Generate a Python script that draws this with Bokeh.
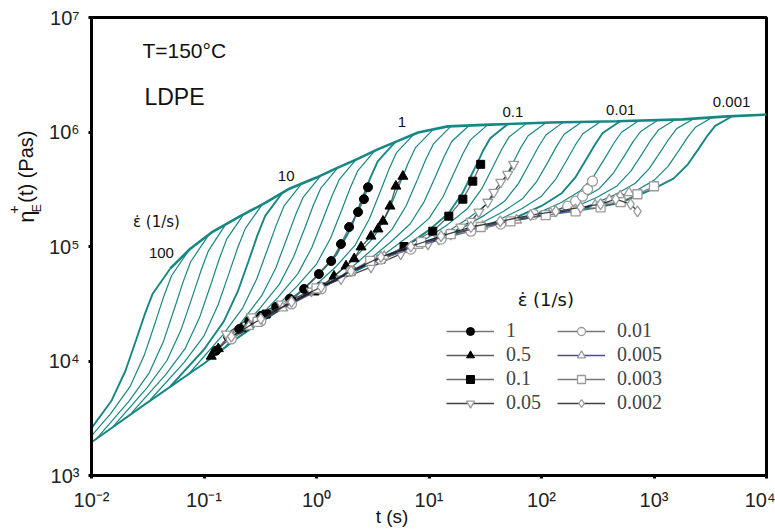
import math
from bokeh.plotting import figure
from bokeh.layouts import row
from bokeh.models import FixedTicker, CustomJSTickFormatter, Label, Legend, LegendItem, Range1d
from bokeh.core.properties import value
from bokeh.embed import file_html
from bokeh.resources import INLINE

# ---------------- axes ----------------
X_RANGE = (1e-2, 1e4)
Y_RANGE = (1e3, 1e7)
X_TICKS = [1e-2, 1e-1, 1, 10, 100, 1000, 1e4]
Y_TICKS = [1e3, 1e4, 1e5, 1e6, 1e7]

# ---------------- model curves ----------------
# linear-viscoelastic start-up (lower bound of the fan)
LVE_T = [0.01, 0.03, 0.1, 0.2, 0.3, 0.5, 1, 2, 3, 5, 10, 20, 30, 50, 100, 200, 300, 500]
LVE_ETA = [1950, 4200, 9500, 16000, 21000, 29000, 42000, 58000, 71000, 87000, 110000, 135000, 150000,
           166000, 186000, 209000, 221000, 240000]

# upper envelope joining the ends of the curves
ENV_T = [0.05, 0.075, 0.12, 0.21, 0.35, 0.56, 1.0, 1.43, 2.3, 3.5, 5.5, 8, 14.7, 35, 120, 470, 1800, 4500, 10000]
ENV_ETA = [64000, 95000, 135000, 184000, 240000, 316000, 400000, 472000, 580000, 705000, 850000, 990000,
           1120000, 1160000, 1210000, 1240000, 1290000, 1370000, 1420000]

# Hencky strain at which each model curve is read
MODEL_STRAIN = [0.5, 1, 1.5, 2, 2.5, 3, 3.5, 5]
MODEL_RATES = [100, 68, 46, 32, 22, 15, 10, 6.8, 4.6, 3.2, 2.2, 1.5, 1, 0.68, 0.46, 0.32, 0.22, 0.15,
               0.1, 0.068, 0.046, 0.032, 0.022, 0.015, 0.01, 0.0068, 0.0046, 0.0032, 0.0022, 0.0015, 0.001]

ETA_100 = [1200, 2590, 4470, 8180, 15400, 26200, 38700, 64000]
ETA_68 = [1570, 3440, 6000, 11200, 21500, 37200, 55500, 93100]
ETA_46 = [2050, 4510, 7890, 14700, 28300, 49100, 73600, 124000]
ETA_32 = [2690, 5860, 10100, 18700, 35600, 61000, 91600, 157000]
ETA_22 = [3520, 7570, 12900, 23700, 44900, 77400, 116000, 194000]
ETA_15 = [4590, 9730, 16600, 30800, 58200, 98400, 144000, 237000]
ETA_10 = [5960, 12600, 22200, 40700, 75500, 127000, 185000, 296000]
ETA_6_8 = [7740, 16900, 29000, 52100, 95100, 156000, 226000, 353000]
ETA_4_6 = [10100, 22100, 37200, 65000, 117000, 189000, 269000, 414000]
ETA_3_2 = [13500, 28600, 46900, 80900, 142000, 229000, 324000, 493000]
ETA_2_2 = [17700, 36000, 57700, 97900, 171000, 272000, 383000, 582000]
ETA_1_5 = [22900, 44600, 70300, 118000, 205000, 327000, 460000, 695000]
ETA_1 = [28800, 54600, 84700, 142000, 248000, 395000, 553000, 817000]
ETA_0_68 = [35500, 65800, 103000, 173000, 299000, 474000, 661000, 957000]
ETA_0_46 = [43200, 78900, 122000, 201000, 343000, 533000, 735000, 1050000]
ETA_0_32 = [52000, 94200, 141000, 226000, 376000, 577000, 787000, 1120000]
ETA_0_22 = [62500, 109000, 158000, 248000, 404000, 611000, 826000, 1140000]
ETA_0_15 = [74600, 124000, 176000, 272000, 438000, 646000, 853000, 1160000]
ETA_0_1 = [87100, 139000, 196000, 296000, 463000, 675000, 883000, 1170000]
ETA_0_068 = [99300, 156000, 215000, 318000, 489000, 700000, 906000, 1190000]
ETA_0_046 = [112000, 173000, 233000, 338000, 513000, 726000, 927000, 1200000]
ETA_0_032 = [127000, 188000, 248000, 356000, 530000, 740000, 942000, 1220000]
ETA_0_022 = [141000, 201000, 263000, 371000, 543000, 753000, 955000, 1220000]
ETA_0_015 = [153000, 214000, 275000, 385000, 561000, 771000, 966000, 1230000]
ETA_0_01 = [166000, 226000, 290000, 401000, 577000, 783000, 979000, 1240000]
ETA_0_0068 = [177000, 240000, 305000, 418000, 594000, 802000, 995000, 1260000]
ETA_0_0046 = [188000, 253000, 320000, 436000, 615000, 824000, 1010000, 1270000]
ETA_0_0032 = [200000, 269000, 338000, 457000, 641000, 851000, 1040000, 1290000]
ETA_0_0022 = [213000, 284000, 357000, 482000, 667000, 877000, 1070000, 1310000]
ETA_0_0015 = [226000, 301000, 378000, 501000, 692000, 906000, 1100000, 1350000]
ETA_0_001 = [241000, 320000, 394000, 522000, 716000, 935000, 1130000, 1380000]

MODEL_ETA = [ETA_100, ETA_68, ETA_46, ETA_32, ETA_22, ETA_15, ETA_10, ETA_6_8, ETA_4_6, ETA_3_2, ETA_2_2,
             ETA_1_5, ETA_1, ETA_0_68, ETA_0_46, ETA_0_32, ETA_0_22, ETA_0_15, ETA_0_1, ETA_0_068, ETA_0_046,
             ETA_0_032, ETA_0_022, ETA_0_015, ETA_0_01, ETA_0_0068, ETA_0_0046, ETA_0_0032, ETA_0_0022,
             ETA_0_0015, ETA_0_001]
DECADE_RATES = [100, 10, 1, 0.1, 0.01, 0.001]
CURVE_LABELS = ["100", "10", "1", "0.1", "0.01", "0.001"]

# ---------------- measured data ----------------
D1_T = [0.128, 0.164, 0.206, 0.252, 0.322, 0.438, 0.58, 0.776, 1.05, 1.35, 1.65, 1.95, 2.34, 2.64, 2.87]
D1_ETA = [12300, 16300, 19000, 22400, 24800, 29700, 35000, 42600, 57500, 74600, 105000, 148000, 200000, 259000, 329000]

D05_T = [0.116, 0.134, 0.214, 0.303, 0.485, 0.953, 1.43, 1.83, 2.16, 2.49, 3.05, 3.52, 3.9, 4.5, 5.08, 5.86]
D05_ETA = [11000, 12800, 19100, 23300, 29700, 40000, 55000, 67500, 78000, 99000, 123000, 142000, 166000,
           225000, 336000, 410000]

D01_T = [0.357, 0.6, 1.1, 2.03, 3.74, 6.0, 10.8, 15, 20, 24.5, 28.8]
D01_ETA = [25700, 32800, 44300, 61000, 77600, 100000, 136000, 184000, 259000, 372000, 522000]

D005_T = [0.158, 0.263, 0.485, 0.9, 1.65, 3.05, 5.6, 9.8, 12.2, 15.6, 19.2, 23.6, 27.7, 33.3, 37.7, 43.4, 50, 56.6]
D005_ETA = [17200, 24300, 31500, 40800, 52000, 66000, 86000, 105000, 116000, 128000, 148000, 166000, 200000,
            244000, 298000, 364000, 427000, 522000]

D0_01_T = [0.175, 0.32, 0.6, 1.1, 2.03, 3.74, 6.9, 12.8, 23.6, 43.4, 85, 128, 171, 201, 232, 257, 284]
D0_01_ETA = [15600, 22400, 31500, 42600, 61000, 77600, 95000, 116000, 136000, 157000, 191000, 203000, 225000,
             249000, 275000, 316000, 372000]

D0_005_T = [0.25, 0.5, 1, 2, 4, 8, 15, 30, 60, 120, 200, 300, 400, 500, 600]
D0_005_ETA = [20000, 29000, 42000, 59000, 82000, 102000, 127000, 150000, 170000, 195000, 210000, 230000,
              255000, 275000, 295000]

D0_003_T = [0.3, 1, 3, 8.5, 15.6, 28.8, 53, 109, 201, 335, 505, 713, 1000]
D0_003_ETA = [22000, 43000, 75000, 109000, 128000, 148000, 166000, 188000, 203000, 220000, 244000, 286000, 336000]

D0_002_T = [0.175, 0.32, 0.6, 1.1, 2.03, 3.74, 6.9, 12.8, 23.6, 43, 80, 134, 223, 335, 457, 620, 713]
D0_002_ETA = [16300, 23300, 32800, 44300, 61000, 81000, 100000, 123000, 148000, 166000, 188000, 203000,
              220000, 234000, 259000, 234000, 203000]

SERIES_LABELS = ["1", "0.5", "0.1", "0.05", "0.01", "0.005", "0.003", "0.002"]
SERIES_T = [D1_T, D05_T, D01_T, D005_T, D0_01_T, D0_005_T, D0_003_T, D0_002_T]
SERIES_ETA = [D1_ETA, D05_ETA, D01_ETA, D005_ETA, D0_01_ETA, D0_005_ETA, D0_003_ETA, D0_002_ETA]

# ---------------- styles ----------------
TEAL = "#168783"
SERIES_MARKER = ["circle", "triangle", "square", "inverted_triangle", "circle", "triangle", "square", "diamond"]
SERIES_FILLED = [True, True, True, False, False, False, False, False]
SERIES_LINE = ["#555555", "#333333", "#444444", "#111111", "#555555", "#1c1c80", "#555555", "#111111"]
SERIES_SIZE = [9, 10, 8, 10, 10, 10, 9, 11]

W, H = 775, 529
STRIP_W = 45                      # left strip carrying the rotated y title
FL, FR, FT, FB = 90, 766, 17, 477  # frame edges on the canvas
NBSP = "\u00a0"


def px(x, y):
    """canvas pixel position -> data coordinates (for text placement)"""
    lx0, lx1 = math.log10(X_RANGE[0]), math.log10(X_RANGE[1])
    ly0, ly1 = math.log10(Y_RANGE[0]), math.log10(Y_RANGE[1])
    return (10 ** (lx0 + (lx1 - lx0) * (x - FL) / (FR - FL)),
            10 ** (ly0 + (ly1 - ly0) * (FB - y) / (FB - FT)))


p = figure(width=W - STRIP_W, height=H, x_axis_type="log", y_axis_type="log",
           x_range=X_RANGE, y_range=Y_RANGE, output_backend="svg", toolbar_location=None,
           min_border_left=FL - STRIP_W, min_border_right=W - FR, min_border_top=FT, min_border_bottom=H - FB)
p.xgrid.visible = False
p.ygrid.visible = False
p.background_fill_color = "white"
p.border_fill_color = "white"
p.outline_line_color = "black"
p.outline_line_width = 3
p.outline_line_alpha = 1

fmt = CustomJSTickFormatter(code="""
const sup = {"-": "\u207b", "0": "\u2070", "1": "\u00b9", "2": "\u00b2", "3": "\u00b3", "4": "\u2074",
             "5": "\u2075", "6": "\u2076", "7": "\u2077", "8": "\u2078", "9": "\u2079"};
const e = Math.round(Math.log10(tick));
return "10" + String(e).split("").map(c => sup[c]).join("");
""")
p.xaxis.ticker = FixedTicker(ticks=X_TICKS, minor_ticks=[])
p.yaxis.ticker = FixedTicker(ticks=Y_TICKS, minor_ticks=[])
for ax in (p.xaxis, p.yaxis):
    ax.formatter = fmt
    ax.axis_line_width = 3
    ax.axis_line_color = "black"
    ax.major_tick_line_width = 3
    ax.major_tick_out = 3
    ax.major_tick_in = 0
    ax.minor_tick_line_color = None
    ax.major_label_text_font = "Liberation Sans"
    ax.major_label_text_font_size = "20px"
    ax.major_label_text_color = "#222222"
p.xaxis.major_label_standoff = 10
p.yaxis.major_label_standoff = 9

# x title (padded with no-break spaces so that it sits left of centre as in the original)
p.xaxis.axis_label = "t (s)" + NBSP * 14
p.xaxis.axis_label_text_font = "Liberation Sans"
p.xaxis.axis_label_text_font_size = "19px"
p.xaxis.axis_label_text_font_style = "normal"
p.xaxis.axis_label_text_color = "#111111"
p.xaxis.axis_label_standoff = -8

# model fan
p.line(LVE_T, LVE_ETA, line_color=TEAL, line_width=2)
for rate, etas in zip(MODEL_RATES, MODEL_ETA):
    ts = [s_ / rate for s_ in MODEL_STRAIN]
    lw = 1.9 if rate in DECADE_RATES else 1.2
    p.line(ts, etas, line_color=TEAL, line_width=lw)
p.line(ENV_T, ENV_ETA, line_color=TEAL, line_width=2.6)

# measured data
items = []
for lab, ts, es, mk, filled, lc, sz in zip(SERIES_LABELS, SERIES_T, SERIES_ETA, SERIES_MARKER,
                                          SERIES_FILLED, SERIES_LINE, SERIES_SIZE):
    lr = p.line(ts, es, line_color=lc, line_width=1.3, line_alpha=0.8)
    if filled:
        sr = p.scatter(ts, es, marker=mk, size=sz, fill_color="black", line_color="black")
    else:
        sr = p.scatter(ts, es, marker=mk, size=sz, fill_color="white", line_color="#9a9a9a", line_width=1.3)
    items.append(LegendItem(label=lab, renderers=[lr, sr]))

legend = Legend(items=items, location=(355, 61), orientation="vertical", nrows=4,
                label_text_font="Liberation Serif", label_text_font_size="20px",
                glyph_width=48, glyph_height=20, label_height=20, label_width=50,
                label_standoff=12, spacing=1, padding=0, margin=0,
                border_line_color=None, background_fill_alpha=0)
p.add_layout(legend)


def add_text(x, y, text, size, font="Liberation Sans", align="center"):
    tx, ty = px(x, y)
    p.add_layout(Label(x=tx, y=ty, text=text, text_font=font, text_font_size=size,
                       text_align=align, text_baseline="middle", text_color="#111111"))


CURVE_LABEL_PX = [(160, 254), (285, 176), (401, 122), (512, 112), (620, 110), (731, 102)]
for lab, (x, y) in zip(CURVE_LABELS, CURVE_LABEL_PX):
    add_text(x, y, lab, "15px")
EPS_DOT = "\u03b5\u0307 (1/s)"
add_text(155, 222, EPS_DOT, "15px", font="DejaVu Sans")
add_text(141, 50, "T=150\u00b0C", "21px", align="left")
add_text(143, 97, "LDPE", "23px", align="left")
add_text(545, 300, EPS_DOT, "18px", font="DejaVu Sans")

# ---------------- left strip with the rotated y title: eta_E^+(t)  (Pas) ----------------
s = figure(width=STRIP_W, height=H, x_range=Range1d(0, STRIP_W), y_range=Range1d(0, H),
           output_backend="svg", toolbar_location=None, x_axis_location=None, y_axis_location=None,
           min_border_left=0, min_border_right=0, min_border_top=0, min_border_bottom=0)
s.xgrid.visible = False
s.ygrid.visible = False
s.outline_line_color = None
s.border_fill_color = "white"
YT_TEXT = ["\u03b7", "+", "E", "(t)  (Pas)"]
YT_X = [26, 13, 36, 25]          # canvas px
YT_Y = [237, 227, 225, 214]      # canvas px (from top)
YT_SIZE = ["22px", "15px", "12px", "20px"]
for t_, x_, y_, sz_ in zip(YT_TEXT, YT_X, YT_Y, YT_SIZE):
    s.text(x=[x_], y=[H - y_], text=[t_], angle=math.pi / 2, text_align="left", text_baseline="middle",
           text_font=value("Liberation Sans"), text_font_size=sz_, text_color="#111111")

layout = row(s, p, spacing=0)
open("out.html", "w").write(file_html(layout, INLINE))
